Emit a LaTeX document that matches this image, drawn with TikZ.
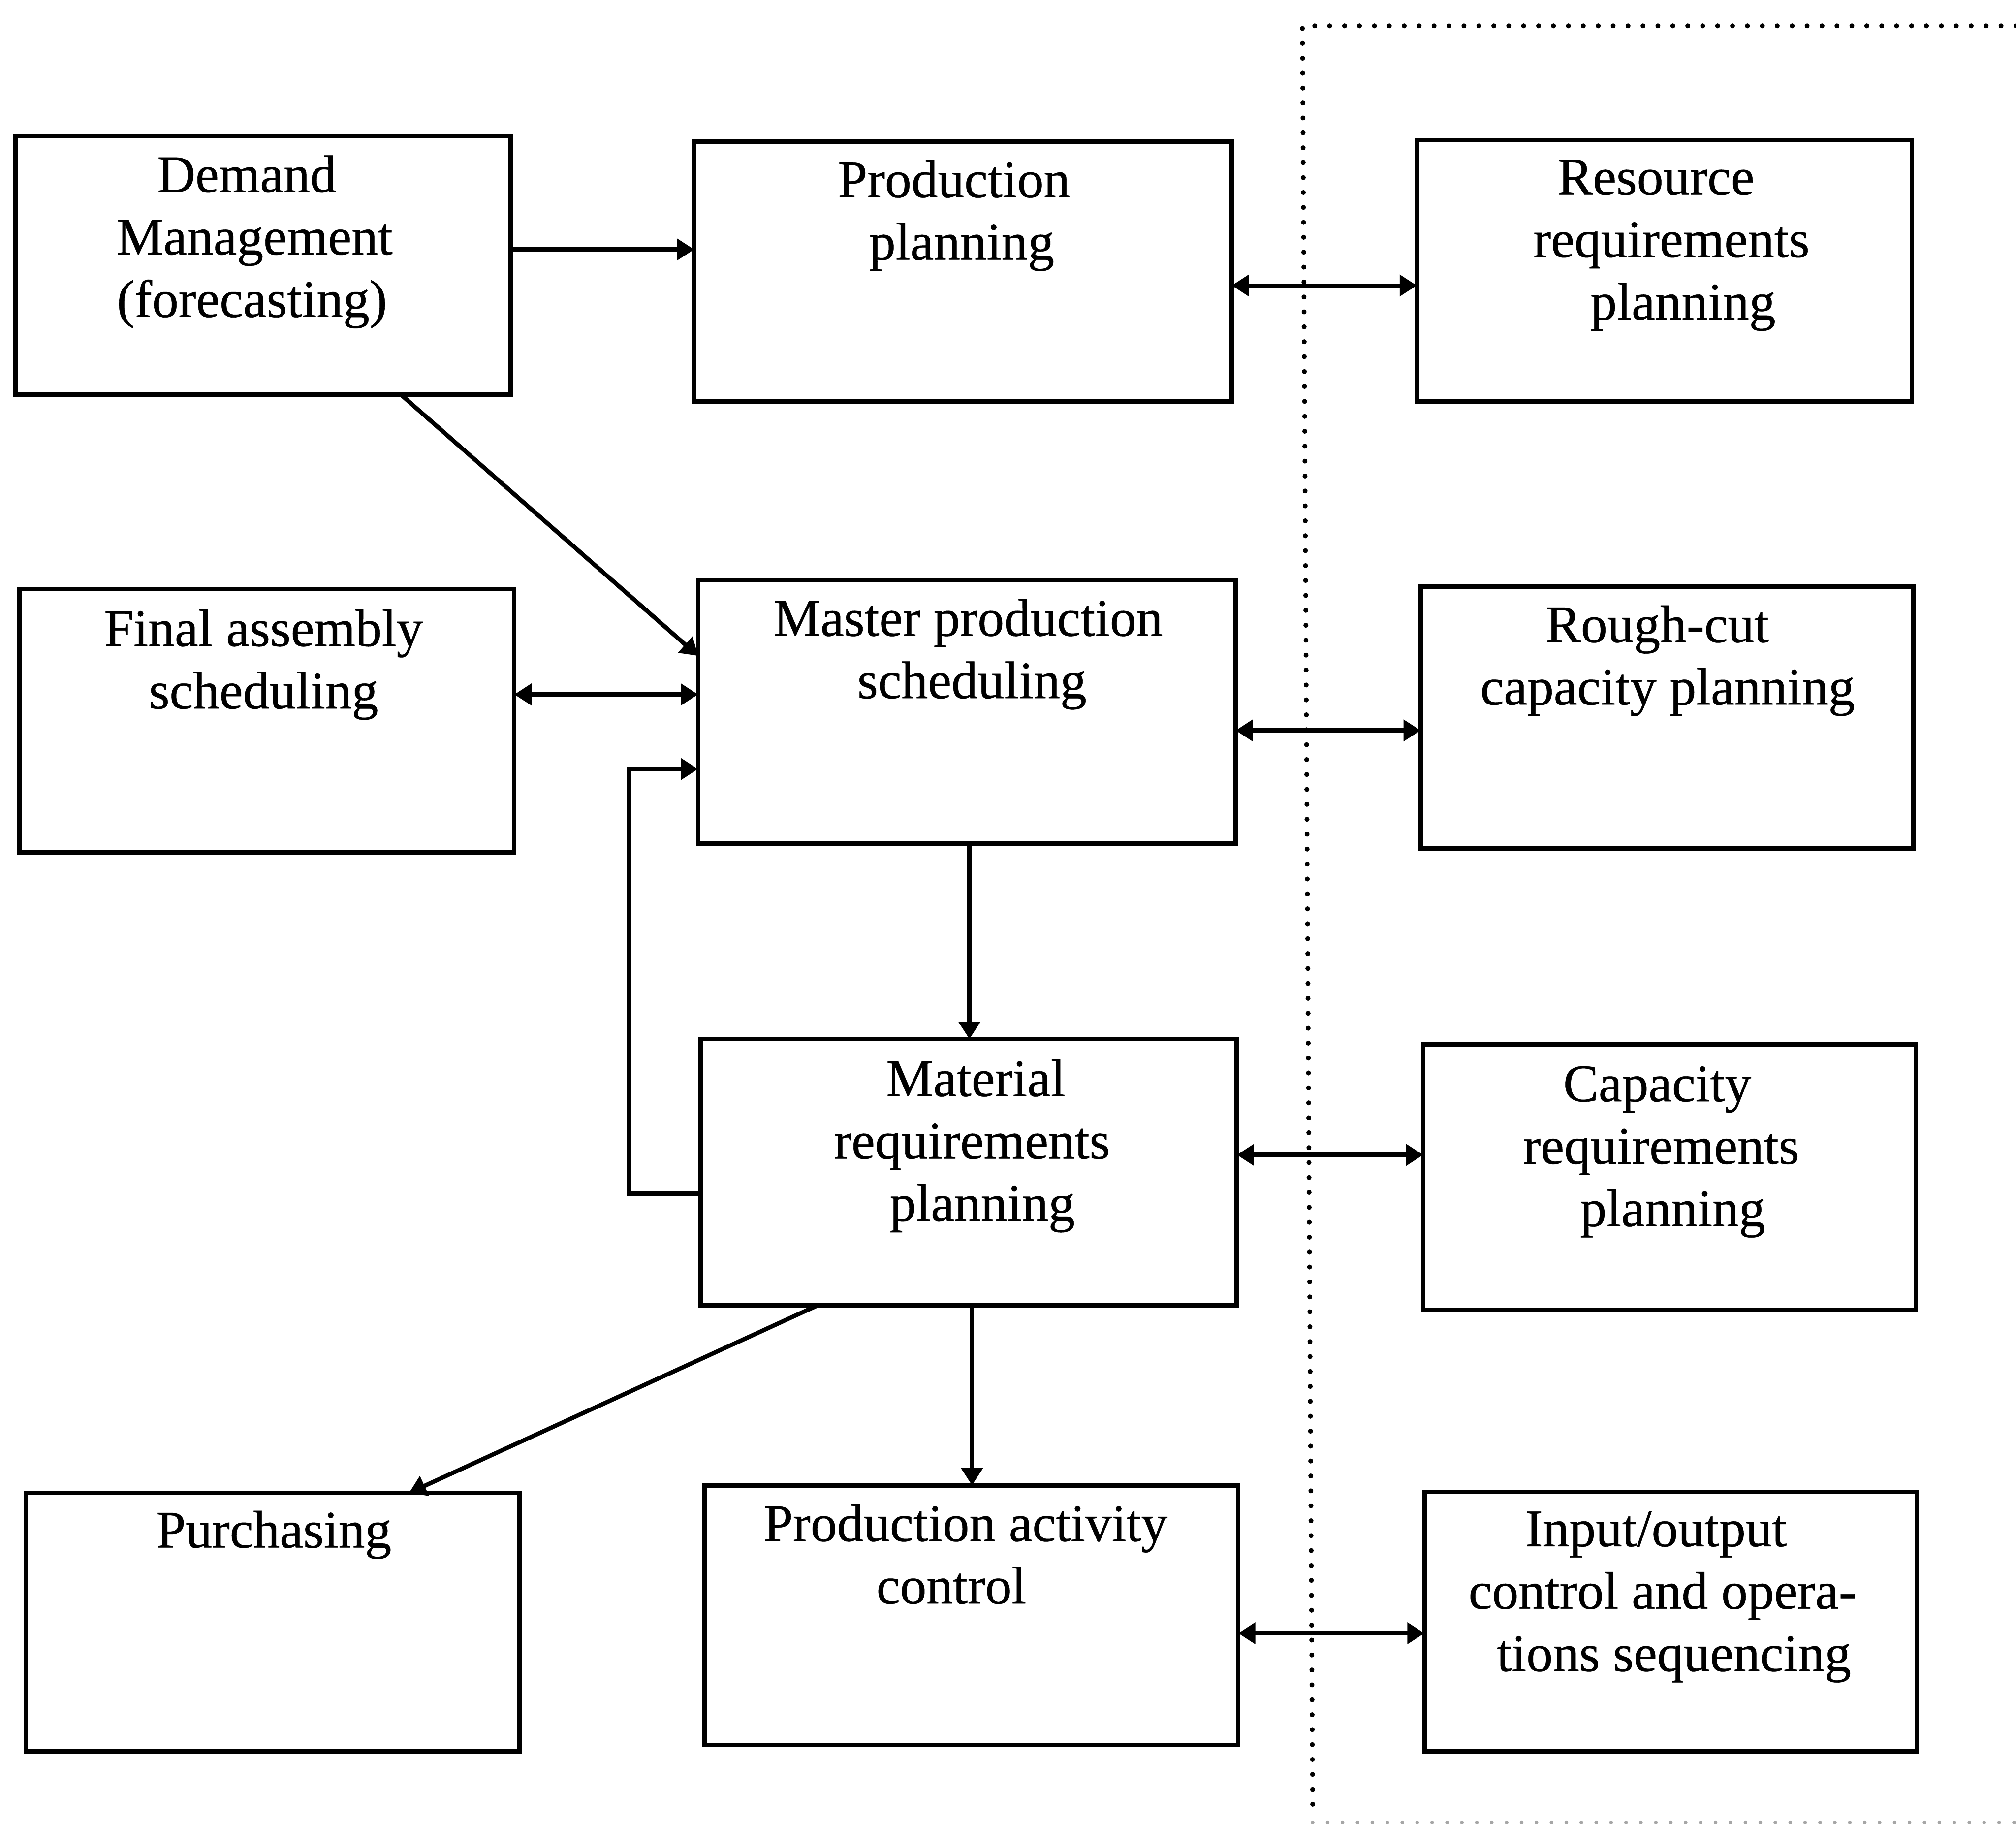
\documentclass[tikz,border=0pt]{standalone}
\usepackage{fontspec}
\setmainfont{Liberation Serif}
\newfontfamily\lblfont{Liberation Serif}[FakeBold=0.5]
\usetikzlibrary{arrows.meta,fit}
\newcommand{\firststrut}{\rule{0pt}{9pt}}
% move one centred line sideways by #1 hundredths of a cm
\newcommand{\lineshift}[1]{\hspace*{\dimexpr 0.2mm*#1\relax}}
\tikzset{
  box/.style={draw, line width=1pt, inner sep=0pt, outer sep=0pt},
  lbl/.style={anchor=north, align=center, inner sep=0pt,
              font=\lblfont\fontsize{11.7}{13.8}\selectfont},
  arr/.style={line width=0.95pt, -{Triangle[length=3.8pt,width=4.6pt]}},
  darr/.style={line width=0.95pt, {Triangle[length=3.8pt,width=4.6pt]}-{Triangle[length=3.8pt,width=4.6pt]}},
  bound/.style={line width=1.1pt, line cap=round, dash pattern=on 0pt off 3.3pt}
}
\begin{document}
\begin{tikzpicture}[x=0.01cm, y=-0.01cm]
\useasboundingbox (0,0) rectangle (1568,1418);

% planning boxes
\node[box, fit={(12,106) (397,307)}]   (dm)   {};
\node[box, fit={(540,110) (958,312)}]  (pp)   {};
\node[box, fit={(1102,109) (1487,312)}] (rrp) {};
\node[box, fit={(15,458) (400,663)}]   (fas)  {};
\node[box, fit={(543,451) (961,656)}]  (mps)  {};
\node[box, fit={(1105,456) (1488,660)}] (rccp) {};
\node[box, fit={(545,808) (962,1015)}] (mrp)  {};
\node[box, fit={(1107,812) (1490,1019)}] (crp) {};
\node[box, fit={(20,1161) (404,1362)}] (pur)  {};
\node[box, fit={(548,1155) (963,1357)}] (pac) {};
\node[box, fit={(1108,1160) (1491,1362)}] (io) {};

% box texts (first baseline minus the strut height)
\node[lbl] (dm-t)   at (195,117)  {\firststrut\lineshift{-3}Demand\\\lineshift{3}Management\\\lineshift{1}(forecasting)};
\node[lbl] (pp-t)   at (745,121)  {\firststrut\lineshift{-3}Production\\\lineshift{3}planning};
\node[lbl] (rrp-t)  at (1299,119) {\firststrut\lineshift{-11}Resource\\\lineshift{1}requirements\\\lineshift{10}planning};
\node[lbl] (fas-t)  at (205,470)  {\firststrut Final assembly\\scheduling};
\node[lbl] (mps-t)  at (755,462)  {\firststrut\lineshift{-2}Master production\\\lineshift{1}scheduling};
\node[lbl] (rccp-t) at (1293,467) {\firststrut\lineshift{-4}Rough-cut\\\lineshift{4}capacity planning};
\node[lbl] (mrp-t)  at (760,820)  {\firststrut\lineshift{-1}Material\\\lineshift{-4}requirements\\\lineshift{4}planning};
\node[lbl] (crp-t)  at (1294,824) {\firststrut\lineshift{-5}Capacity\\\lineshift{-2}requirements\\\lineshift{7}planning};
\node[lbl] (pur-t)  at (213,1171) {\firststrut Purchasing};
\node[lbl] (pac-t)  at (746,1166) {\firststrut\lineshift{5}Production activity\\\lineshift{-6}control};
\node[lbl] (io-t)   at (1294,1170) {\firststrut\lineshift{-6}Input/output\\\lineshift{-1}control and opera-\\\lineshift{8}tions sequencing};

% connectors
\draw[arr]  (dm.east |- 0,194)  -- (pp.west |- 0,194);
\draw[darr] (pp.east |- 0,222)  -- (rrp.west |- 0,222);
\draw[arr]  (dm.south -| 312,0) -- (mps.west |- 0,510);
\draw[darr] (fas.east |- 0,540) -- (mps.west |- 0,540);
\draw[darr] (mps.east |- 0,568) -- (rccp.west |- 0,568);
\draw[arr]  (mps.south -| 754,0) -- (mrp.north -| 754,0);
\draw[arr]  (mrp.west |- 0,928) -| (489,598) -- (mps.west |- 0,598);
\draw[darr] (mrp.east |- 0,898) -- (crp.west |- 0,898);
\draw[arr]  (mrp.south -| 636,0) -- (pur.north -| 318,0);
\draw[arr]  (mrp.south -| 756,0) -- (pac.north -| 756,0);
\draw[darr] (pac.east |- 0,1270) -- (io.west |- 0,1270);

% boundary of the capacity side
\draw[bound] (1568,20) -- (1013,20) -- (1021,1410);
\draw[bound, black!35, line width=0.8pt] (1021,1417) -- (1568,1417);
\end{tikzpicture}
\end{document}
